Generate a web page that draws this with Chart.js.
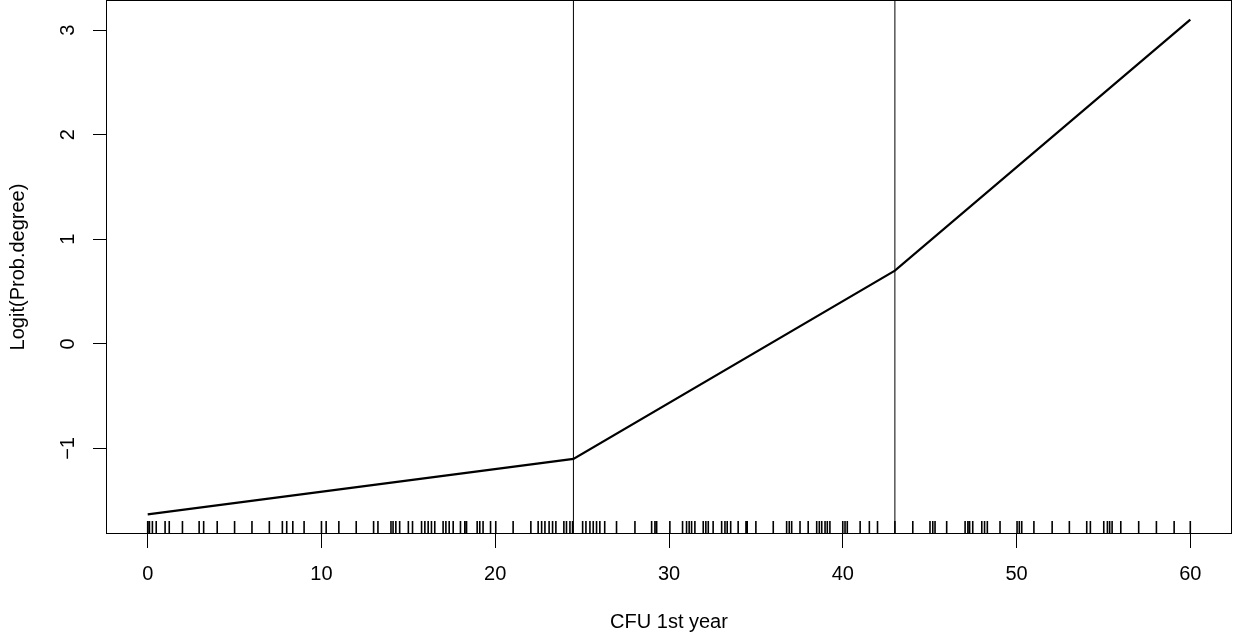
<!DOCTYPE html>
<html><head><meta charset="utf-8">
<script src="https://cdn.jsdelivr.net/npm/chart.js@4/dist/chart.umd.min.js"></script>
<style>html,body{margin:0;padding:0;background:#fff;}canvas{display:block;}</style>
</head><body>
<canvas id="c" width="1240" height="640"></canvas>
<script>
const fitX = [0, 24.5, 43, 60];
const fitY = [-1.63, -1.10, 0.70, 3.10];
const knots = [24.5, 43];
const rugValues = [0, 0.1, 0.27, 0.49, 1.0, 1.24, 2.0, 2.96, 3.22, 4.0, 5.0, 6.0, 7.0, 7.75, 8.0, 8.35, 9.0, 10.0, 10.27, 11.0, 12.0, 13.0, 13.25, 14.0, 14.12, 14.28, 14.5, 15.0, 15.24, 15.76, 15.95, 16.14, 16.33, 16.52, 17.0, 17.16, 17.35, 17.58, 18.0, 18.25, 18.35, 18.96, 19.11, 19.3, 19.73, 20.03, 21.03, 22.05, 22.47, 22.67, 22.86, 23.1, 23.3, 23.49, 23.95, 24.1, 24.3, 24.45, 25.03, 25.22, 25.45, 25.64, 25.83, 26.02, 26.3, 26.98, 28.04, 29.0, 29.19, 29.29, 30.05, 30.78, 31.01, 31.16, 31.3, 31.49, 31.97, 32.12, 32.26, 32.54, 33.03, 33.22, 33.35, 33.55, 33.98, 34.43, 34.5, 35.0, 36.0, 36.77, 36.92, 37.06, 37.54, 38.01, 38.5, 38.65, 38.79, 38.98, 39.11, 39.26, 40.0, 40.13, 40.26, 41.0, 41.53, 42.0, 43.0, 44.03, 45.02, 45.18, 45.31, 45.98, 47.04, 47.2, 47.3, 47.48, 48.0, 48.16, 48.32, 49.05, 50.03, 50.16, 50.3, 51.0, 52.05, 53.04, 54.04, 54.25, 55.02, 55.23, 55.36, 55.5, 56.0, 57.03, 58.05, 59.07, 60.0];
const xTicks = [0, 10, 20, 30, 40, 50, 60];
const yTicks = [-1, 0, 1, 2, 3];
const xTitle = 'CFU 1st year';
const yTitle = 'Logit(Prob.degree)';
const xRange = [-2.4, 62.4];
const yRange = [-1.818, 3.288];

const FONT = {family: '"Liberation Sans", Arial, sans-serif', size: 20, lineHeight: 1.2};
Chart.defaults.color = '#000';

const fitData = fitX.map((x, i) => ({x: x, y: fitY[i]}));
const knotSets = knots.map(k => ({
  data: [{x: k, y: yRange[0]}, {x: k, y: yRange[1]}],
  showLine: true, borderColor: '#000', borderWidth: 1, pointRadius: 0, tension: 0
}));

const rugPlugin = {
  id: 'rug',
  afterDatasetsDraw(chart) {
    const {ctx, chartArea: a, scales: {x}} = chart;
    ctx.save();
    ctx.strokeStyle = '#000';
    ctx.lineWidth = 1.6;
    ctx.beginPath();
    rugValues.forEach(v => {
      const px = x.getPixelForValue(v);
      ctx.moveTo(px, a.bottom);
      ctx.lineTo(px, a.bottom - 13);
    });
    ctx.stroke();
    ctx.restore();
  }
};
const framePlugin = {
  id: 'frame',
  afterDraw(chart) {
    const {ctx, chartArea: a} = chart;
    ctx.save();
    ctx.strokeStyle = '#000';
    ctx.lineWidth = 1;
    ctx.strokeRect(a.left + 0.5, a.top + 0.5, a.right - a.left - 1, a.bottom - a.top - 1);
    ctx.restore();
  }
};
const fmt = v => v < 0 ? '\u2212' + Math.abs(v) : String(v);

new Chart(document.getElementById('c'), {
  type: 'scatter',
  data: {
    datasets: [
      ...knotSets,
      {data: fitData, showLine: true, borderColor: '#000', borderWidth: 2.2, pointRadius: 0, tension: 0}
    ]
  },
  options: {
    responsive: false, animation: false, devicePixelRatio: 1,
    layout: {padding: {left: 0, right: 8, top: 0, bottom: 0}, autoPadding: false},
    plugins: {legend: {display: false}, tooltip: {enabled: false}},
    scales: {
      x: {
        type: 'linear', min: xRange[0], max: xRange[1],
        afterBuildTicks: s => { s.ticks = xTicks.map(v => ({value: v})); },
        afterFit: s => { s.height = 106; s.paddingLeft = 0; s.paddingRight = 0; },
        grid: {display: true, drawOnChartArea: false, drawTicks: true, tickLength: 14, color: '#000', lineWidth: 1},
        border: {display: false},
        ticks: {font: FONT, color: '#000', padding: 14.7, minRotation: 0, maxRotation: 0, autoSkip: false, callback: v => fmt(v)},
        title: {display: true, text: xTitle, font: FONT, color: '#000', padding: {top: 0, bottom: 6}}
      },
      y: {
        type: 'linear', min: yRange[0], max: yRange[1],
        afterBuildTicks: s => { s.ticks = yTicks.map(v => ({value: v})); },
        afterFit: s => { s.width = 106; s.paddingTop = 0; s.paddingBottom = 0; },
        grid: {display: true, drawOnChartArea: false, drawTicks: true, tickLength: 13, color: '#000', lineWidth: 1},
        border: {display: false},
        ticks: {font: FONT, color: '#000', padding: 13.6, minRotation: 90, maxRotation: 90, crossAlign: 'center', autoSkip: false, callback: v => fmt(v)},
        title: {display: true, text: yTitle, font: FONT, color: '#000', padding: {top: 6, bottom: 0}}
      }
    }
  },
  plugins: [rugPlugin, framePlugin]
});
</script>
</body></html>
